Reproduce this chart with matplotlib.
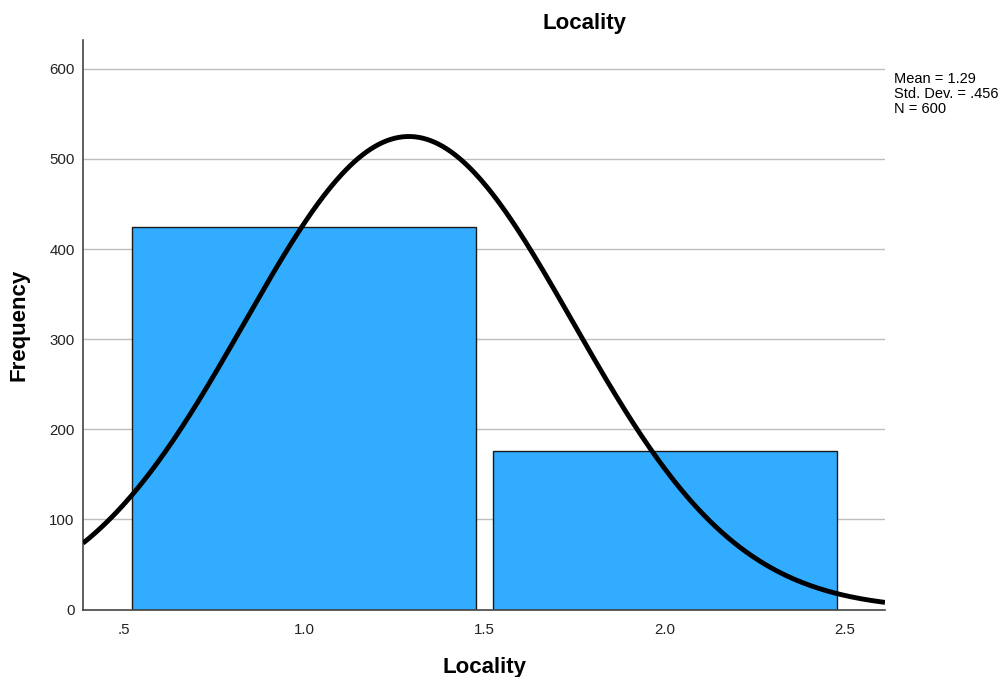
import numpy as np
import matplotlib.pyplot as plt

plt.rcParams['font.family'] = ['Liberation Sans', 'DejaVu Sans']

# frequency table for Locality
categories = [1.0, 2.0]
counts = [424, 176]
n_total = 600
mean = 1.29
std_dev = 0.456
xticks = [0.5, 1.0, 1.5, 2.0, 2.5]
xtick_labels = ['.5', '1.0', '1.5', '2.0', '2.5']
yticks = [0, 100, 200, 300, 400, 500, 600]

fig = plt.figure(figsize=(10.06, 6.77), dpi=100)
ax = fig.add_axes([83 / 1006, 1 - 609.5 / 677, 802 / 1006, 569.5 / 677])

ax.set_xlim(0.386, 2.611)
ax.set_ylim(0, 632)

for y in yticks[1:]:
    ax.axhline(y, color='#bdbdbd', lw=1, zorder=0)

ax.bar(categories, counts, width=0.955, color='#31acff', edgecolor='#1a1a1a',
       linewidth=1, zorder=2)

# normal curve scaled to counts (bin width 1)
xs = np.linspace(0.386, 2.611, 400)
dens = np.exp(-0.5 * ((xs - mean) / std_dev) ** 2) / (std_dev * np.sqrt(2 * np.pi))
ax.plot(xs, dens * n_total * 1.0, color='black', lw=3.5, zorder=3,
        solid_capstyle='butt')

for side in ['top', 'right']:
    ax.spines[side].set_visible(False)
for side in ['left', 'bottom']:
    ax.spines[side].set_color('#444444')
    ax.spines[side].set_linewidth(1.2)

ax.set_xticks(xticks)
ax.set_xticklabels(xtick_labels)
ax.set_yticks(yticks)
ax.tick_params(length=0, labelsize=10.8, colors='#222222', pad=6)
ax.tick_params(axis='x', pad=10)

# axis titles placed directly in figure pixels
fig.text(484 / 1006, 1 - 668 / 677, 'Locality', fontsize=16, fontweight='bold',
         ha='center', va='center')
fig.text(19 / 1006, 1 - 325 / 677, 'Frequency', fontsize=16, fontweight='bold',
         ha='center', va='center', rotation=90)

fig.text(585 / 1006, 1 - 23 / 677, 'Locality', fontsize=16, fontweight='bold',
         ha='center', va='center')
fig.text(894 / 1006, 1 - 72 / 677,
         'Mean = 1.29\nStd. Dev. = .456\nN = 600',
         fontsize=10.5, ha='left', va='top', linespacing=1.1)

fig.savefig('out.png', dpi=100)
